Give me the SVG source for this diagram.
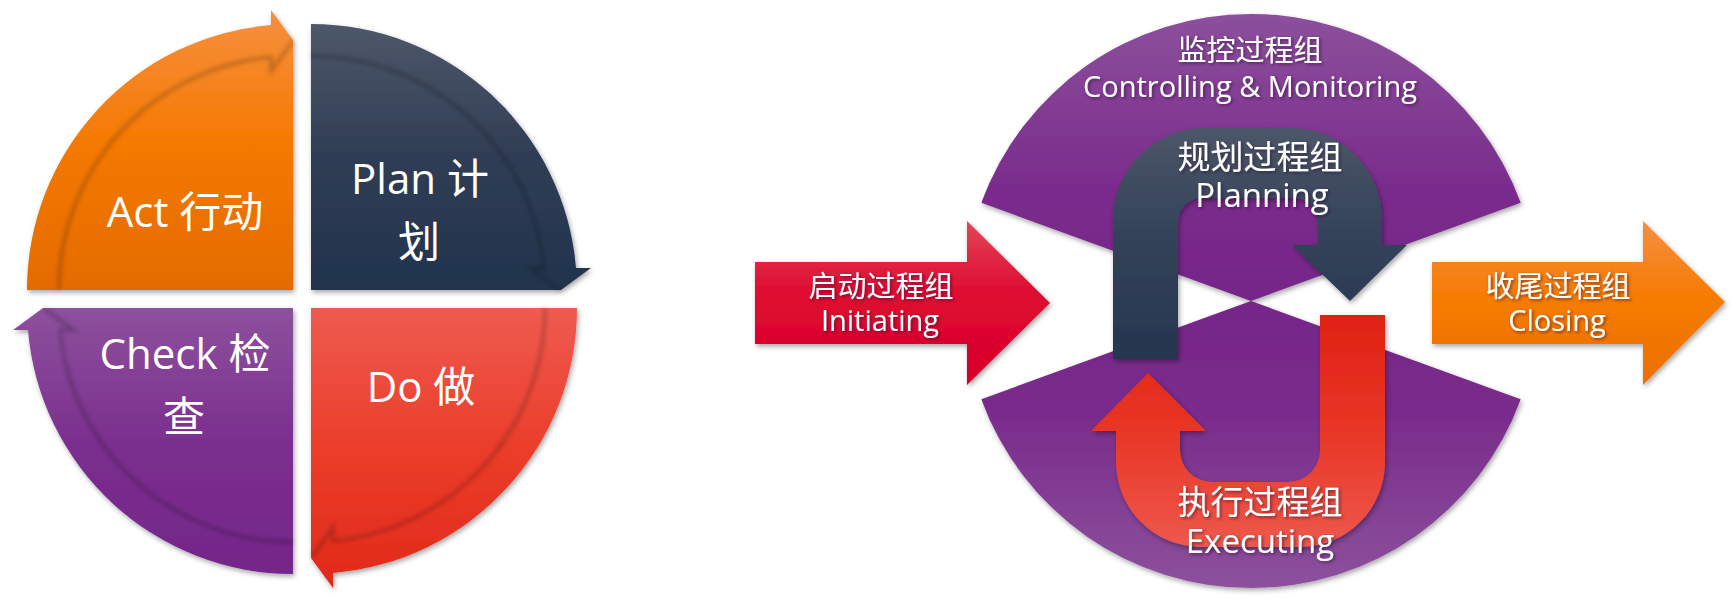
<svg xmlns="http://www.w3.org/2000/svg" width="1736" height="606" viewBox="0 0 1736 606">
<defs>
<style>
.t{font-family:"Open Sans","Noto Sans CJK SC",sans-serif;fill:#fff;text-anchor:middle}
.l{font-size:42px}
.r{font-size:29px}
.rb{font-size:33px}
.band{fill:none;stroke:#000;stroke-opacity:0.2;stroke-width:4;filter:url(#bl)}
.sh{filter:url(#sh)}
.ts{filter:url(#ts)}
</style>
<filter id="sh" x="-10%" y="-10%" width="125%" height="125%"><feDropShadow dx="1.5" dy="2.5" stdDeviation="2.5" flood-color="#000" flood-opacity="0.35"/></filter>
<filter id="ts" x="-10%" y="-20%" width="120%" height="150%"><feDropShadow dx="1.5" dy="1.5" stdDeviation="1.5" flood-color="#2a0a30" flood-opacity="0.6"/></filter>
<filter id="bl" x="-5%" y="-5%" width="110%" height="110%"><feGaussianBlur stdDeviation="2.2"/></filter>
<linearGradient id="gAct" x1="0" y1="0" x2="0" y2="1"><stop offset="0" stop-color="#F6903F"/><stop offset="0.45" stop-color="#F57A04"/><stop offset="1" stop-color="#E46B04"/></linearGradient>
<linearGradient id="gPlan" x1="0" y1="0" x2="0" y2="1"><stop offset="0" stop-color="#4E5869"/><stop offset="0.5" stop-color="#2F3D54"/><stop offset="1" stop-color="#22344E"/></linearGradient>
<linearGradient id="gCheck" x1="0" y1="0" x2="0" y2="1"><stop offset="0" stop-color="#8D519D"/><stop offset="0.5" stop-color="#7B2F8E"/><stop offset="1" stop-color="#742689"/></linearGradient>
<linearGradient id="gDo" x1="0" y1="0" x2="0" y2="1"><stop offset="0" stop-color="#EF5B50"/><stop offset="0.5" stop-color="#EA3D2A"/><stop offset="1" stop-color="#E2291A"/></linearGradient>
<linearGradient id="gPurple" gradientUnits="userSpaceOnUse" x1="0" y1="14" x2="0" y2="588"><stop offset="0" stop-color="#8C509C"/><stop offset="0.3" stop-color="#7A2C8C"/><stop offset="0.5" stop-color="#762588"/><stop offset="0.7" stop-color="#7A2C8C"/><stop offset="1" stop-color="#8C519C"/></linearGradient>
<linearGradient id="gInit" x1="0" y1="0" x2="0" y2="1"><stop offset="0" stop-color="#E24556"/><stop offset="0.45" stop-color="#DF0A30"/><stop offset="1" stop-color="#D6002B"/></linearGradient>
<linearGradient id="gClose" x1="0" y1="0" x2="0" y2="1"><stop offset="0" stop-color="#F68E42"/><stop offset="0.45" stop-color="#F67C04"/><stop offset="1" stop-color="#EC7000"/></linearGradient>
<linearGradient id="gPlanU" x1="0" y1="0" x2="0" y2="1"><stop offset="0" stop-color="#4C5768"/><stop offset="0.45" stop-color="#34435A"/><stop offset="1" stop-color="#25364F"/></linearGradient>
<linearGradient id="gExecU" x1="0" y1="0" x2="0" y2="1"><stop offset="0" stop-color="#E02214"/><stop offset="0.5" stop-color="#E83626"/><stop offset="1" stop-color="#EE584C"/></linearGradient>
</defs>
<rect width="1736" height="606" fill="#fff"/>

<!-- PDCA cycle -->
<g id="node-act">
<path class="sh" fill="url(#gAct)" d="M27,290 A266,266 0 0 1 271,25 L271,10 L293,40 L293,290 Z"/>
<path class="band" d="M59,290 A234,234 0 0 1 271,57 L271,71 L293,41"/>
<text class="t l" x="185" y="227">Act 行动</text>
</g>
<g id="node-plan">
<path class="sh" fill="url(#gPlan)" d="M311,24 A266,266 0 0 1 576,268 L591,268 L561,290 L311,290 Z"/>
<path class="band" d="M311,56 A234,234 0 0 1 544,268 L530,268 L560,290"/>
<text class="t l" x="420" y="194">Plan 计</text>
<text class="t l" x="419" y="257">划</text>
</g>
<g id="node-do">
<path class="sh" fill="url(#gDo)" d="M577,308 A266,266 0 0 1 333,573 L333,588 L311,558 L311,308 Z"/>
<path class="band" d="M545,308 A234,234 0 0 1 333,541 L333,527 L312,557"/>
<text class="t l" x="421" y="402">Do 做</text>
</g>
<g id="node-check">
<path class="sh" fill="url(#gCheck)" d="M293,574 A266,266 0 0 1 28,330 L13,330 L43,308 L293,308 Z"/>
<path class="band" d="M293,542 A234,234 0 0 1 60,330 L74,330 L44,309"/>
<text class="t l" x="185" y="369">Check 检</text>
<text class="t l" x="184" y="432">查</text>
</g>

<!-- Process groups -->
<g id="node-monitoring">
<path class="sh" fill="url(#gPurple)" d="M1251,301 L981.3,202.8 A287,287 0 0 1 1520.7,202.8 Z"/>
<path class="sh" fill="url(#gPurple)" d="M1251,301 L1520.7,399.2 A287,287 0 0 1 981.3,399.2 Z"/>
<text class="t r ts" x="1250" y="61">监控过程组</text>
<text class="t r ts" x="1250" y="97">Controlling &amp; Monitoring</text>
</g>
<g id="node-initiating">
<path class="sh" fill="url(#gInit)" d="M755,262 L967,262 L967,221 L1050,303 L967,385 L967,344 L755,344 Z"/>
<text class="t r ts" x="881" y="297">启动过程组</text>
<text class="t r ts" x="880" y="331">Initiating</text>
</g>
<g id="node-planning">
<path class="sh" fill="url(#gPlanU)" d="M1113,359 L1113,220 A92,92 0 0 1 1205,128 L1290,128 A92,92 0 0 1 1382,220 L1382,245 L1407,245 L1350,301 L1292,245 L1318,245 L1318,222 A24,24 0 0 0 1294,198 L1202,198 A24,24 0 0 0 1178,222 L1178,359 Z"/>
<text class="t rb ts" x="1260" y="169">规划过程组</text>
<text class="t rb ts" x="1262" y="207">Planning</text>
</g>
<g id="node-executing">
<path class="sh" fill="url(#gExecU)" d="M1385,315 L1385,462 A85,85 0 0 1 1300,547 L1201,547 A85,85 0 0 1 1116,462 L1116,431 L1091,431 L1148,373 L1206,431 L1180,431 L1180,450 A32,32 0 0 0 1212,482 L1288,482 A32,32 0 0 0 1320,450 L1320,315 Z"/>
<text class="t rb ts" x="1260" y="514">执行过程组</text>
<text class="t rb ts" x="1260" y="553">Executing</text>
</g>
<g id="node-closing">
<path class="sh" fill="url(#gClose)" d="M1432,262 L1643,262 L1643,221 L1725,302 L1643,385 L1643,344 L1432,344 Z"/>
<text class="t r ts" x="1558" y="297">收尾过程组</text>
<text class="t r ts" x="1557" y="331">Closing</text>
</g>
<g id="connectors"/>
</svg>
